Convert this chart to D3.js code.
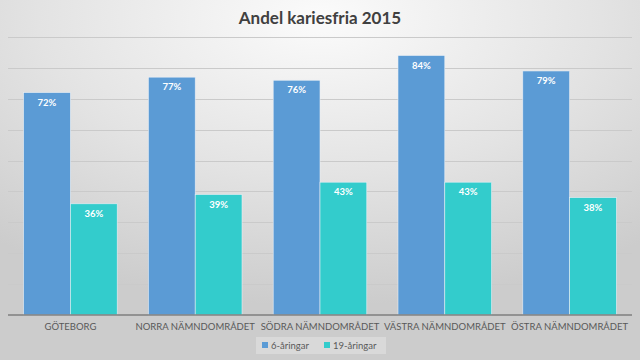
<!DOCTYPE html>
<html><head><meta charset="utf-8">
<script src="https://cdn.jsdelivr.net/npm/d3@7"></script>
<style>body{margin:0;}svg{display:block;font-family:Lato,"Open Sans",sans-serif;}</style>
</head><body>
<svg id="c" width="640" height="360"></svg>
<script>
const categories = ["GÖTEBORG","NORRA NÄMNDOMRÅDET","SÖDRA NÄMNDOMRÅDET","VÄSTRA NÄMNDOMRÅDET","ÖSTRA NÄMNDOMRÅDET"];
const seriesNames = ["6-åringar","19-åringar"];
const values6 = [72,77,76,84,79];
const values19 = [36,39,43,43,38];
const yTicks = [0,10,20,30,40,50,60,70,80,90];
const colors = ["#5B9BD5","#33CCCC"];

const svg = d3.select("#c");
const defs = svg.append("defs");
const rg = defs.append("radialGradient").attr("id","bg").attr("cx","50%").attr("cy","5%").attr("r","80%").attr("gradientUnits","objectBoundingBox");
rg.append("stop").attr("offset","0%").attr("stop-color","#fbfbfb");
rg.append("stop").attr("offset","55%").attr("stop-color","#e3e3e3");
rg.append("stop").attr("offset","100%").attr("stop-color","#cccccc");
svg.append("rect").attr("width",640).attr("height",360).attr("fill","url(#bg)");

const m = {left:8,right:8,top:36,bottom:45};
const x = d3.scaleBand().domain(categories).range([m.left,640-m.right]).paddingInner(0.25).paddingOuter(0.125);
const xi = d3.scaleBand().domain(seriesNames).range([0,x.bandwidth()]).padding(0);
const y = d3.scaleLinear().domain([0,90]).range([315,37]);

svg.append("text").attr("x",320).attr("y",24).attr("text-anchor","middle")
  .attr("font-size",17).attr("font-weight","bold").attr("fill","#404040").text("Andel kariesfria 2015");

svg.append("g").selectAll("line").data(yTicks.slice(1)).join("line")
  .attr("x1",m.left).attr("x2",640-m.right).attr("y1",d=>Math.round(y(d))+0.5).attr("y2",d=>Math.round(y(d))+0.5)
  .attr("stroke","#cacaca").attr("stroke-width",1);

const data = categories.map((c,i)=>({c, v:[values6[i],values19[i]]}));
const g = svg.append("g").selectAll("g").data(data).join("g").attr("transform",d=>`translate(${x(d.c)},0)`);
g.selectAll("rect").data(d=>d.v.map((v,j)=>({s:seriesNames[j],v,j}))).join("rect")
  .attr("x",d=>xi(d.s)).attr("width",xi.bandwidth()).attr("y",d=>y(d.v)).attr("height",d=>y(0)-y(d.v))
  .attr("fill",d=>colors[d.j]).attr("stroke","#e8eef5").attr("stroke-width",0.6);
g.selectAll("text").data(d=>d.v.map((v,j)=>({s:seriesNames[j],v,j}))).join("text")
  .attr("x",d=>xi(d.s)+xi.bandwidth()/2).attr("y",d=>y(d.v)+13).attr("text-anchor","middle")
  .attr("font-size",9.5).attr("font-weight","bold").attr("fill","#ffffff").text(d=>d.v+"%");

const xAxis = svg.append("g").attr("transform","translate(0,315)").call(d3.axisBottom(x).tickSize(0).tickPadding(8));
xAxis.select(".domain").attr("stroke","#7f7f7f").attr("stroke-width",1.5).attr("d",`M${m.left},0H${640-m.right}`);
xAxis.selectAll("text").attr("font-size",9.5).attr("fill","#595959").attr("font-family","Lato,'Open Sans',sans-serif");

const lg = svg.append("g");
const legItems = [{n:seriesNames[0],x:262},{n:seriesNames[1],x:324}];
lg.append("rect").attr("x",256).attr("y",337).attr("width",130).attr("height",17).attr("fill","#ffffff").attr("opacity",0.25);
legItems.forEach((d,i)=>{
  lg.append("rect").attr("x",d.x).attr("y",342).attr("width",6).attr("height",6).attr("fill",colors[i]);
  lg.append("text").attr("x",d.x+9).attr("y",348.5).attr("font-size",9.5).attr("fill","#595959").text(d.n);
});
</script>
</body></html>
